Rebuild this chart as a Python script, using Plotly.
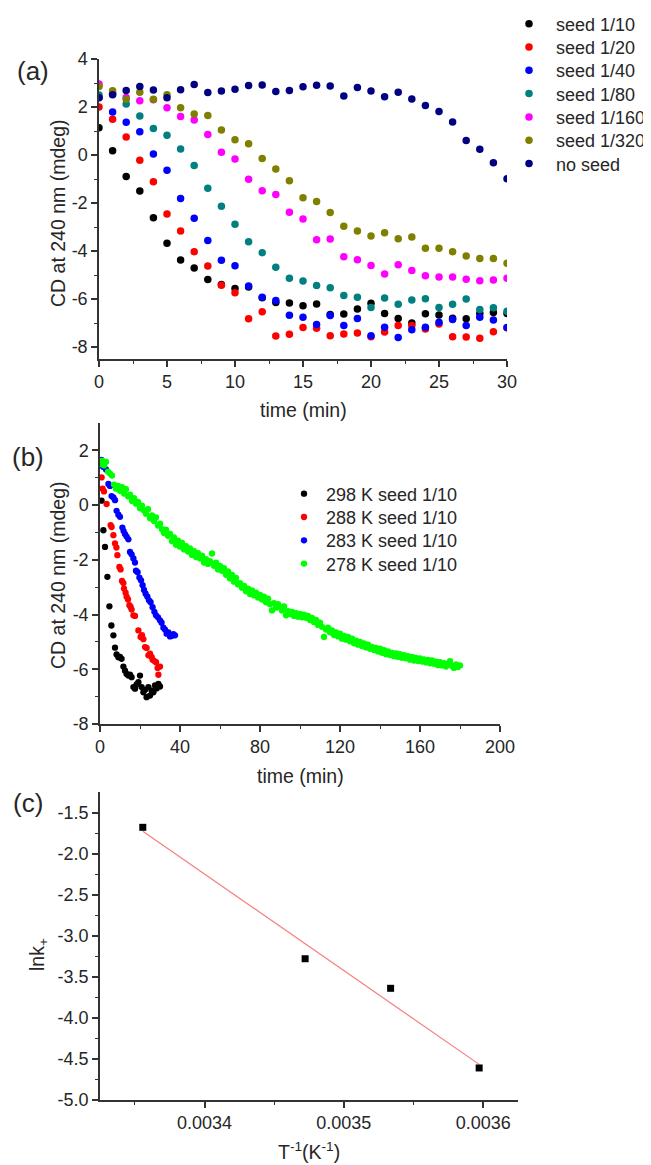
import numpy as np
import plotly.graph_objects as go

# ---------------- panel (a): CD at 240 nm vs time for several seed ratios
time_a = [0, 1, 2, 3, 4, 5, 6, 7, 8, 9, 10, 11, 12, 13, 14, 15, 16, 17, 18, 19, 20,
          21, 22, 23, 24, 25, 26, 27, 28, 29, 30]
names_a = ["seed 1/10", "seed 1/20", "seed 1/40", "seed 1/80", "seed 1/160", "seed 1/320", "no seed"]
cd_seed_10 = [1.14, 0.18, -0.90, -1.50, -2.61, -3.68, -4.38, -4.71, -5.19, -5.40, -5.56, -5.50, -5.95,
              -6.15, -6.17, -6.28, -6.21, -6.65, -6.63, -6.42, -6.18, -6.60, -6.81, -7.00, -6.61, -6.67,
              -6.80, -6.82, -6.60, -6.56, -6.60]
cd_seed_20 = [2.00, 1.49, 0.75, -0.22, -1.11, -2.46, -3.17, -4.03, -4.62, -5.43, -5.74, -6.82, -6.53,
              -7.54, -7.47, -7.19, -7.22, -7.53, -7.46, -7.42, -7.57, -7.38, -7.10, -7.10, -7.25, -7.04,
              -7.57, -7.58, -7.64, -7.36, -7.20]
cd_seed_40 = [2.40, 1.79, 1.36, 0.97, 0.04, -0.64, -1.81, -2.64, -3.56, -4.39, -4.61, -5.46, -5.93,
              -6.06, -6.68, -6.76, -7.06, -6.69, -7.10, -6.81, -7.53, -7.18, -7.60, -7.28, -7.18, -6.97,
              -6.85, -7.10, -6.76, -6.88, -7.19]
cd_seed_80 = [2.50, 2.55, 2.13, 1.63, 1.10, 0.82, 0.25, -0.44, -1.39, -2.14, -2.89, -3.61, -4.07,
              -4.68, -5.14, -5.25, -5.44, -5.53, -5.85, -5.93, -6.35, -5.96, -6.22, -6.04, -5.99, -6.35,
              -6.22, -6.00, -6.44, -6.36, -6.51]
cd_seed_160 = [2.96, 2.56, 2.40, 2.26, 2.30, 1.97, 1.60, 1.46, 0.85, 0.11, -0.17, -1.01, -1.49,
               -1.65, -2.39, -2.67, -3.53, -3.50, -4.24, -4.36, -4.60, -4.96, -4.57, -4.81, -5.03, -5.08,
               -5.08, -5.18, -5.24, -5.21, -5.14]
cd_seed_320 = [2.85, 2.68, 2.32, 2.61, 2.32, 2.51, 1.97, 1.71, 1.65, 1.04, 0.64, 0.47, -0.15,
               -0.58, -1.07, -1.78, -1.94, -2.40, -2.97, -3.17, -3.38, -3.24, -3.49, -3.42, -3.89, -3.89,
               -4.03, -4.21, -4.31, -4.31, -4.51]
cd_no_seed = [2.39, 2.51, 2.69, 2.85, 2.71, 2.39, 2.72, 2.94, 2.60, 2.67, 2.74, 2.90, 2.92,
              2.65, 2.69, 2.84, 2.91, 2.87, 2.46, 2.81, 2.67, 2.43, 2.61, 2.33, 2.06, 1.81,
              1.38, 0.60, 0.24, -0.32, -0.99]
series_a = [cd_seed_10, cd_seed_20, cd_seed_40, cd_seed_80, cd_seed_160, cd_seed_320, cd_no_seed]
colors_a = ["#000000", "#ff0000", "#0000ff", "#008080", "#ff00ff", "#808000", "#000080"]

# ---------------- panel (b): seed 1/10 at four temperatures
names_b = ["298 K seed 1/10", "288 K seed 1/10", "283 K seed 1/10", "278 K seed 1/10"]
t_298 = [0.8, 1.7, 2.5, 3.7, 4.7, 5.7, 6.7, 7.5, 8.3, 9.2, 10.0, 10.8, 11.7, 12.5, 13.3, 14.2, 15.0,
         15.8, 16.7, 17.5, 18.3, 19.2, 20.0, 20.8, 21.7, 22.5, 23.3, 24.2, 25.0, 25.8, 26.7, 27.5,
         28.3, 29.2, 30.0]
cd_298 = [0.16, -0.92, -1.53, -2.62, -3.70, -4.40, -4.76, -5.21, -5.46, -5.56, -5.55, -5.62, -5.90,
          -6.05, -6.17, -6.23, -6.20, -6.29, -6.65, -6.71, -6.55, -6.47, -6.23, -6.65, -6.84, -6.75,
          -7.02, -6.65, -6.96, -6.78, -6.84, -6.59, -6.70, -6.53, -6.63]
t_288 = [0.8, 1.3, 2.0, 3.3, 5.3, 5.8, 6.7, 7.5, 8.2, 8.7, 9.7, 10.3, 11.0, 11.7, 12.0, 12.8, 13.3,
         14.0, 14.7, 15.3, 15.8, 16.7, 17.5, 19.2, 20.3, 21.0, 21.7, 22.5, 23.3, 24.2, 25.0, 25.8,
         26.3, 27.2, 28.0, 28.8, 29.2, 30.0]
cd_288 = [1.01, 0.60, 0.50, 0.04, -0.73, -0.80, -1.10, -1.40, -1.55, -1.83, -2.26, -2.35, -2.77,
          -2.85, -3.05, -3.20, -3.35, -3.45, -3.66, -3.72, -3.82, -4.03, -4.05, -4.58, -4.82, -4.75,
          -4.90, -5.19, -5.22, -5.49, -5.43, -5.55, -5.65, -5.70, -5.74, -5.95, -6.20, -5.90]
t_283 = [0.0, 0.7, 1.5, 3.0, 4.2, 5.0, 5.8, 6.7, 7.5, 8.3, 9.2, 10.0, 11.2, 11.8, 12.5, 13.3, 14.2,
         15.0, 15.8, 16.7, 17.5, 18.0, 18.8, 19.7, 20.5, 21.3, 22.0, 22.8, 23.7, 24.5, 25.3, 26.3,
         27.2, 28.0, 29.0, 30.0, 30.8, 31.7, 32.5, 33.3, 34.2, 35.0, 35.8, 36.7, 37.5]
cd_283 = [1.52, 1.65, 1.40, 1.30, 0.77, 0.70, 0.33, 0.28, 0.18, -0.21, -0.35, -0.43, -0.82, -0.95,
          -1.06, -1.15, -1.25, -1.71, -1.80, -1.95, -2.10, -2.40, -2.45, -2.65, -2.75, -2.93, -3.10,
          -3.24, -3.35, -3.48, -3.55, -3.73, -3.90, -4.03, -4.10, -4.21, -4.30, -4.48, -4.55, -4.70,
          -4.65, -4.80, -4.78, -4.72, -4.76]
t_278 = [0, 1, 2, 3, 4, 5, 6, 7, 8, 9, 10, 11, 12, 13, 14, 15, 16, 17, 18, 19,
         20, 21, 22, 23, 24, 25, 26, 27, 28, 29, 30, 31, 32, 33, 34, 35, 36, 37, 38, 39,
         40, 41, 42, 43, 44, 45, 46, 47, 48, 49, 50, 51, 52, 53, 54, 55, 56, 57, 58, 59,
         60, 61, 62, 63, 64, 65, 66, 67, 68, 69, 70, 71, 72, 73, 74, 75, 76, 77, 78, 79,
         80, 81, 82, 83, 84, 85, 86, 87, 88, 89, 90, 91, 92, 93, 94, 95, 96, 97, 98, 99,
         100, 101, 102, 103, 104, 105, 106, 107, 108, 109, 110, 111, 112, 113, 114, 115, 116, 117, 118, 119,
         120, 121, 122, 123, 124, 125, 126, 127, 128, 129, 130, 131, 132, 133, 134, 135, 136, 137, 138, 139,
         140, 141, 142, 143, 144, 145, 146, 147, 148, 149, 150, 151, 152, 153, 154, 155, 156, 157, 158, 159,
         160, 161, 162, 163, 164, 165, 166, 167, 168, 169, 170, 171, 172, 173, 174, 175, 176, 177, 178, 179,
         180]
cd_278 = [1.50, 1.62, 1.45, 1.58, 1.22, 1.15, 1.08, 0.75, 0.60, 0.70,
          0.52, 0.66, 0.42, 0.58, 0.32, 0.38, 0.15, 0.25, 0.05, 0.12,
          -0.12, -0.02, -0.20, -0.32, -0.15, -0.48, -0.38, -0.58, -0.45, -0.75,
          -0.68, -0.88, -1.02, -0.90, -1.12, -1.05, -1.32, -1.18, -1.45, -1.30,
          -1.52, -1.38, -1.62, -1.50, -1.70, -1.58, -1.82, -1.68, -1.90, -1.76,
          -1.95, -1.85, -2.10, -1.98, -2.15, -2.05, -1.77, -2.22, -2.10, -2.35,
          -2.22, -2.40, -2.30, -2.55, -2.42, -2.68, -2.55, -2.80, -2.66, -2.90,
          -2.85, -3.02, -2.95, -3.15, -3.05, -3.25, -3.12, -3.30, -3.20, -3.38,
          -3.28, -3.45, -3.35, -3.55, -3.42, -3.62, -3.85, -3.58, -3.75, -3.62,
          -3.72, -3.85, -3.70, -4.03, -3.88, -3.98, -3.90, -4.05, -3.95, -4.08,
          -3.98, -4.10, -4.00, -4.12, -4.05, -4.20, -4.12, -4.28, -4.20, -4.38,
          -4.30, -4.45, -4.82, -4.55, -4.48, -4.65, -4.58, -4.75, -4.65, -4.80,
          -4.70, -4.88, -4.78, -4.92, -4.82, -4.98, -4.88, -5.05, -4.95, -5.10,
          -5.00, -5.15, -5.05, -5.20, -5.10, -5.25, -5.18, -5.30, -5.22, -5.35,
          -5.25, -5.40, -5.30, -5.45, -5.35, -5.48, -5.40, -5.52, -5.42, -5.55,
          -5.45, -5.58, -5.48, -5.60, -5.52, -5.65, -5.55, -5.68, -5.58, -5.70,
          -5.60, -5.72, -5.64, -5.75, -5.66, -5.78, -5.68, -5.80, -5.72, -5.85,
          -5.74, -5.86, -5.78, -5.90, -5.80, -5.70, -5.88, -5.95, -5.82, -5.92,
          -5.86]
times_b = [t_298, t_288, t_283, t_278]
series_b = [cd_298, cd_288, cd_283, cd_278]
colors_b = ["#000000", "#ff0000", "#0000ff", "#00ff00"]

# ---------------- panel (c): Arrhenius plot
temps_K = [298, 288, 283, 278]
ln_k = [-1.68, -3.28, -3.64, -4.61]

# tick labels
xt_a = [0, 5, 10, 15, 20, 25, 30]
yt_a = [-8, -6, -4, -2, 0, 2, 4]
xt_b = [0, 40, 80, 120, 160, 200]
yt_b = [-8, -6, -4, -2, 0, 2]
xt_c = [0.0034, 0.0035, 0.0036]
xt_c_text = ["0.0034", "0.0035", "0.0036"]
yt_c = [-1.5, -2.0, -2.5, -3.0, -3.5, -4.0, -4.5, -5.0]

FONT = "Liberation Sans, Arial, sans-serif"
TXT = "#262626"
# the page body has an 8px margin, so the figure is made that much smaller and
# every screen position below is shifted by it
OFF = 8
FW, FH = 651 - OFF, 1165 - OFF


def sx(x):
    return (x - OFF) / FW


def sy(y):
    return 1 - (y - OFF) / FH


fig = go.Figure()
legends = {}


def legend_key(i):
    return "legend" if i == 1 else "legend%d" % i


# one small legend box per entry so the rows sit as tight as in the original
k = 1
for i, (name, ys, col) in enumerate(zip(names_a, series_a, colors_a)):
    fig.add_trace(go.Scatter(x=time_a, y=ys, mode="markers", name=name,
                             marker=dict(color=col, size=7.5, line=dict(width=0)),
                             xaxis="x", yaxis="y", legend=legend_key(k)))
    legends[legend_key(k)] = dict(x=sx(502), y=sy(24 + 23.3 * i), itemwidth=44)
    k += 1

for i, (name, xs, ys, col) in enumerate(zip(names_b, times_b, series_b, colors_b)):
    fig.add_trace(go.Scatter(x=xs, y=ys, mode="markers", name=name,
                             marker=dict(color=col, size=6.3, line=dict(width=0)),
                             xaxis="x2", yaxis="y2", legend=legend_key(k)))
    legends[legend_key(k)] = dict(x=sx(282), y=sy(494 + 23.3 * i), itemwidth=34)
    k += 1

inv_T = [1.0 / t for t in temps_K]
slope, icpt = np.polyfit(inv_T, ln_k, 1)
fit_x = [min(inv_T), max(inv_T)]
fig.add_trace(go.Scatter(x=fit_x, y=[slope * v + icpt for v in fit_x], mode="lines",
                         line=dict(color="#f47f7f", width=1.2), showlegend=False,
                         xaxis="x3", yaxis="y3"))
fig.add_trace(go.Scatter(x=inv_T, y=ln_k, mode="markers", showlegend=False,
                         marker=dict(color="black", symbol="square", size=7, line=dict(width=0)),
                         xaxis="x3", yaxis="y3"))


def axis_style(**kw):
    d = dict(showline=True, linewidth=1.5, linecolor="#333333", ticks="outside", ticklen=6,
             tickwidth=1.5, tickcolor="#333333", showgrid=False, zeroline=False, automargin=False,
             tickfont=dict(family=FONT, size=18, color=TXT), tickmode="array")
    d.update(kw)
    return d


def minor(vals):
    return dict(ticks="outside", ticklen=3.5, tickwidth=1.2, tickcolor="#333333",
                tickmode="array", tickvals=vals, showgrid=False)


def fmt(v):
    return "%g" % v


fig.update_layout(
    template="none",
    width=FW, height=FH, margin=dict(l=0, r=0, t=0, b=0, autoexpand=False),
    paper_bgcolor="white", plot_bgcolor="white",
    font=dict(family=FONT, color=TXT, size=18),
    xaxis=axis_style(domain=[sx(99), sx(507)], anchor="y", range=[0, 30],
                     tickvals=xt_a, ticktext=[fmt(v) for v in xt_a],
                     minor=minor([2.5, 7.5, 12.5, 17.5, 22.5, 27.5])),
    yaxis=axis_style(domain=[sy(359), sy(59)], anchor="x", range=[-8.5, 4],
                     tickvals=yt_a, ticktext=[fmt(v) for v in yt_a],
                     minor=minor([-7, -5, -3, -1, 1, 3])),
    xaxis2=axis_style(domain=[sx(100), sx(500)], anchor="y2", range=[0, 200],
                      tickvals=xt_b, ticktext=[fmt(v) for v in xt_b],
                      minor=minor([20, 60, 100, 140, 180])),
    yaxis2=axis_style(domain=[sy(724), sy(423)], anchor="x2", range=[-8, 3],
                      tickvals=yt_b, ticktext=[fmt(v) for v in yt_b],
                      minor=minor([-7, -5, -3, -1, 1])),
    xaxis3=axis_style(domain=[sx(100), sx(518)], anchor="y3", range=[0.003325, 0.003625],
                      tickvals=xt_c, ticktext=xt_c_text,
                      minor=minor([0.00335, 0.00345, 0.00355])),
    yaxis3=axis_style(domain=[sy(1100), sy(792)], anchor="x3", range=[-5.0, -1.25],
                      tickvals=yt_c, ticktext=["%.1f" % v for v in yt_c],
                      minor=minor([-1.75, -2.25, -2.75, -3.25, -3.75, -4.25, -4.75])),
)

for key, spec in legends.items():
    spec.update(xanchor="left", yanchor="middle", bgcolor="rgba(0,0,0,0)", borderwidth=0,
                font=dict(family=FONT, size=18, color=TXT))
    fig.update_layout({key: spec})


def label(text, x, y, size=19.5, angle=0):
    fig.add_annotation(text=text, x=sx(x), y=sy(y), xref="paper", yref="paper",
                       xanchor="center", yanchor="middle", showarrow=False, textangle=angle,
                       font=dict(family=FONT, size=size, color=TXT))


label("(a)", 33, 71, size=26)
label("(b)", 28, 457, size=26)
label("(c)", 28, 803, size=26)
label("CD at 240 nm (mdeg)", 58, 213, angle=-90)
label("time (min)", 303, 410)
label("CD at 240 nm (mdeg)", 58, 575, angle=-90)
label("time (min)", 300, 776)
label("lnk<sub>+</sub>", 38, 955, angle=-90)
label("T<sup>-1</sup>(K<sup>-1</sup>)", 309, 1151)

fig.write_html("out.html")
